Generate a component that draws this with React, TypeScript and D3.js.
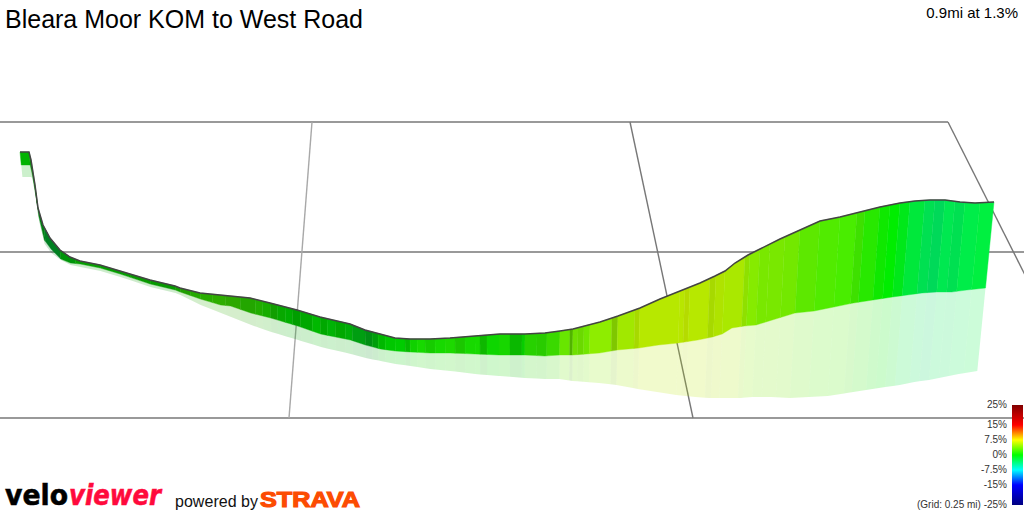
import React from "react";
import * as d3 from "d3";

const width = 1024;
const height = 512;

// route distance along the segment, relative height of the road, the ribbon foot and the shadow foot
const profileDist = [1, 10, 12, 16, 19, 24, 31, 41, 51, 61, 81, 101, 131, 156, 161, 181, 201, 211, 231, 251, 278, 301, 331, 346, 361, 376, 391, 411, 431, 456, 481, 506, 526, 541, 554, 581, 599, 621, 641, 661, 681, 696, 706, 716, 729, 741, 761, 781, 801, 821, 841, 861, 881, 896, 911, 926, 941, 956, 975];
const roadHeight = [268, 268, 260, 235, 212, 195, 182, 170, 163, 159, 155, 149, 140, 134, 132, 127, 125, 124, 122, 117, 110, 103, 96, 90, 86, 82, 81, 81, 82, 84, 86, 86, 87, 89, 91, 98, 104, 112, 121, 129, 137, 144, 149, 157, 165, 171, 181, 190, 199, 203, 208, 213, 217, 219, 220, 220, 218, 217, 218];
const footHeight = [255, 255, 245, 223, 204, 180, 171, 161, 157, 156, 152, 146, 136, 130, 128, 121, 115, 114, 107, 102, 94, 86, 80, 75, 71, 69, 68, 67, 67, 66, 65, 65, 64, 65, 65, 67, 70, 72, 75, 77, 80, 83, 86, 92, 94, 95, 101, 107, 109, 113, 117, 120, 123, 125, 127, 128, 128, 130, 132];
const shadowHeight = [243, 243, 240, 216, 198, 176, 167, 160, 155, 153, 149, 143, 133, 127, 125, 115, 107, 103, 95, 88, 80, 73, 66, 62, 59, 56, 54, 51, 49, 46, 44, 42, 41, 41, 39, 37, 35, 31, 28, 25, 23, 22, 22, 22, 22, 23, 23, 22, 23, 24, 27, 30, 33, 35, 38, 40, 43, 46, 49];

// colour stripes along the route: where each one ends, its grade in percent and its shading
const stripeEnd = [10, 17, 25, 41, 56, 81, 111, 131, 156, 161, 171, 181, 193, 206, 221, 236, 243, 251, 258, 266, 273, 281, 293, 301, 308, 316, 326, 333, 346, 353, 359, 366, 376, 386, 391, 398, 406, 416, 426, 436, 446, 456, 461, 468, 480, 491, 503, 506, 518, 528, 541, 551, 554, 559, 565, 571, 593, 599, 616, 621, 661, 666, 671, 691, 697, 706, 726, 731, 741, 751, 766, 781, 801, 821, 838, 846, 861, 871, 881, 891, 906, 916, 926, 936, 946, 961, 975];
const stripeGrade = [0, 0, -1, -2, -0.5, 0.3, 0.2, 0.4, 0.3, 0.8, 1.5, 1.6, 1.8, 2, 2, 1.6, 1.4, 1, 0.8, 0.3, 0, 0, 0, 0, 0, -0.2, 0, -0.3, -0.8, -1, -0.5, 0, 0, 0, 0.2, 0.6, 0.8, 0.8, 0.8, 1, 1, 0.8, 0.8, 0.6, 0.5, 0.8, 0.4, 0.3, 1.4, 1.5, 2, 3.4, 3.4, 3.7, 3.7, 3.7, 4.5, 4.8, 5.2, 5.8, 5.9, 6, 6.2, 5.9, 5.8, 5.8, 5.5, 4.8, 4.3, 3.9, 3.9, 3.7, 3, 2.6, 2.3, 2.1, 1.3, 0.5, 0, -0.8, -1.9, -2.7, -3.1, -2.6, -2.7, -2.3, -2];
const stripeShade = [0.7, 0.55, 0.5, 0.5, 0.58, 0.62, 0.62, 0.6, 0.6, 0.62, 0.62, 0.66, 0.68, 0.68, 0.66, 0.65, 0.68, 0.68, 0.62, 0.66, 0.68, 0.62, 0.66, 0.72, 0.66, 0.7, 0.66, 0.68, 0.62, 0.56, 0.62, 0.72, 0.78, 0.8, 0.72, 0.82, 0.85, 0.8, 0.85, 0.85, 0.78, 0.85, 0.86, 0.72, 0.84, 0.84, 0.72, 0.8, 0.82, 0.8, 0.85, 0.9, 0.7, 0.88, 0.85, 0.9, 0.93, 0.78, 0.91, 0.85, 0.91, 0.9, 0.86, 0.91, 0.85, 0.89, 0.91, 0.88, 0.92, 0.91, 0.91, 0.91, 0.91, 0.92, 0.93, 0.88, 0.91, 0.91, 0.93, 0.91, 0.91, 0.88, 0.85, 0.91, 0.88, 0.93, 0.94];

// grid, one line every 0.25 mi
const gridMiles = [1, 2, 3];
const gridRows = [0, 1, 2];
const gridRowY = [122, 252, 418];
const gridLineColor = ["#a8a8a8", "#777777", "#777777"];

const legendGrades = [25, 15, 7.5, 0, -7.5, -15, -25];
const legendColors = ["#800000", "#ff0000", "#ffff00", "#00ff00", "#00ffff", "#0000ff", "#000080"];
const legendLabels = ["25%", "15%", "7.5%", "0%", "-7.5%", "-15%", "(Grid: 0.25 mi) -25%"];

const x = d3.scaleLinear().domain([0, 975]).range([19, 994]);
const y = d3.scaleLinear().domain([0, 300]).range([420, 120]);
const road = d3.scaleLinear().domain(profileDist).range(roadHeight);
const foot = d3.scaleLinear().domain(profileDist).range(footHeight);
const shadow = d3.scaleLinear().domain(profileDist).range(shadowHeight);
const gradeColor = d3.scaleLinear<string>().domain(legendGrades).range(legendColors).interpolate(d3.interpolateRgb);
const legendY = d3.scaleLinear().domain([25, -25]).range([405, 505]);

// the walls lean towards a vanishing point far below the page
const vanishX = 500;
const vanishDepth = 5000;
const project = (d: number, h: number, top: number): [number, number] => {
  const px = x(d);
  const py = y(h);
  return [px + ((vanishX - px) * (py - y(top))) / vanishDepth, py];
};

// grid corners from the spacing at the far and near edge
const gridX = d3.scaleLinear().domain([122, 418]).range([-6, -115]);
const gridStep = d3.scaleLinear().domain([122, 418]).range([318, 404]);
const gridPoint = (m: number, py: number) => gridX(py) + m * gridStep(py);

const stripeStops = (i: number) => {
  const start = i === 0 ? 1 : stripeEnd[i - 1];
  const end = stripeEnd[i];
  return [start, ...profileDist.filter((d) => d > start && d < end), end];
};

const band = (i: number, upper: d3.ScaleLinear<number, number>, lower: d3.ScaleLinear<number, number>) => {
  const stops = stripeStops(i);
  const pts = [
    ...stops.map((d) => project(d, upper(d), road(d))),
    ...stops.slice().reverse().map((d) => project(d, lower(d), road(d))),
  ];
  return d3.line()(pts) + "Z";
};

const stripeColor = (i: number) => {
  const c = d3.rgb(gradeColor(stripeGrade[i]));
  return d3.rgb(c.r * stripeShade[i], c.g * stripeShade[i], c.b * stripeShade[i]).formatHex();
};

const roadLine = d3.line<number>()
  .x((d) => x(d))
  .y((d) => y(road(d)));

const sans = "'Liberation Sans', Arial, sans-serif";

export default function App() {
  return (
    <svg width={width} height={height} viewBox={`0 0 ${width} ${height}`} style={{ position: "absolute", left: 0, top: 0, background: "#fff" }} fontFamily={sans}>
      <defs>
        <linearGradient id="gradeBar" x1="0" y1="0" x2="0" y2="1">
          {legendGrades.map((g, i) => (
            <stop key={g} offset={(legendY(g) - legendY(25)) / (legendY(-25) - legendY(25))} stopColor={legendColors[i]} />
          ))}
        </linearGradient>
      </defs>

      {gridRows.map((r) => (
        <line key={r} x1={0} x2={r === 0 ? gridPoint(3, gridRowY[0]) : width} y1={gridRowY[r]} y2={gridRowY[r]} stroke="#777" strokeWidth={1.5} />
      ))}
      {gridMiles.map((m, i) => (
        <line key={m} x1={gridPoint(m, gridRowY[0])} y1={gridRowY[0]} x2={gridPoint(m, gridRowY[2])} y2={gridRowY[2]} stroke={gridLineColor[i]} strokeWidth={1.4} />
      ))}

      <g fillOpacity={0.2}>
        {stripeEnd.map((_, i) => (
          <path key={i} d={band(i, foot, shadow)} fill={stripeColor(i)} />
        ))}
      </g>
      <g>
        {stripeEnd.map((_, i) => (
          <path key={i} d={band(i, road, foot)} fill={stripeColor(i)} stroke={stripeColor(i)} strokeWidth={0.4} />
        ))}
      </g>
      <path d={roadLine(profileDist) ?? ""} fill="none" stroke="#444" strokeWidth={1.5} />

      <text x={5} y={28} fontSize={25} fill="#000">Bleara Moor KOM to West Road</text>
      <text x={1018} y={18} fontSize={15} fill="#000" textAnchor="end">0.9mi at 1.3%</text>

      <rect x={1012} y={legendY(25)} width={11} height={legendY(-25) - legendY(25)} fill="url(#gradeBar)" />
      {legendGrades.map((g, i) => (
        <text key={g} x={1007} y={legendY(g) + 3} fontSize={10} fill="#333" textAnchor="end">{legendLabels[i]}</text>
      ))}

      <text x={5} y={505} fontSize={29} fontFamily="'DejaVu Sans'" fontWeight="bold" fill="#000" stroke="#000" strokeWidth={0.6} textLength={63} lengthAdjust="spacingAndGlyphs">velo</text>
      <text x={69} y={505} fontSize={29} fontFamily="'DejaVu Sans'" fontWeight="bold" fontStyle="italic" fill="#ff0a3c" stroke="#ff0a3c" strokeWidth={0.6} textLength={92} lengthAdjust="spacingAndGlyphs">viewer</text>
      <text x={175} y={507} fontSize={16} fill="#111" textLength={83}>powered by</text>
      <text x={260} y={507} fontSize={22} fontWeight="bold" fill="#fc4c02" stroke="#fc4c02" strokeWidth={1.2} textLength={100} lengthAdjust="spacingAndGlyphs">STRAVA</text>
    </svg>
  );
}
